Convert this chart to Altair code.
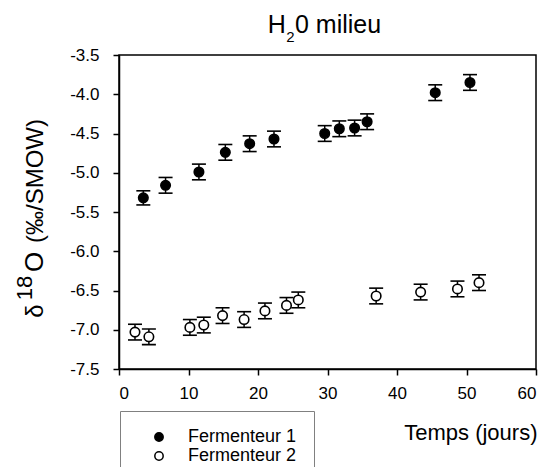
import altair as alt
import pandas as pd

# Fermenteur 1
days1 = [3.5, 6.7, 11.5, 15.3, 18.8, 22.3, 29.6, 31.7, 33.9, 35.7, 45.5, 50.5]
d18o1 = [-5.32, -5.16, -4.99, -4.74, -4.63, -4.57, -4.50, -4.44, -4.43, -4.35, -3.98, -3.85]
err1 = [0.09, 0.10, 0.10, 0.10, 0.10, 0.10, 0.10, 0.10, 0.10, 0.10, 0.10, 0.10]

# Fermenteur 2
days2 = [2.3, 4.3, 10.2, 12.2, 14.9, 18.0, 21.0, 24.1, 25.8, 37.0, 43.4, 48.7, 51.8]
d18o2 = [-7.03, -7.09, -6.97, -6.94, -6.82, -6.87, -6.76, -6.69, -6.62, -6.57, -6.52, -6.48, -6.40]
err2 = [0.10, 0.10, 0.10, 0.10, 0.10, 0.10, 0.10, 0.10, 0.10, 0.10, 0.10, 0.10, 0.10]

series_names = ["Fermenteur 1", "Fermenteur 2"]
x_ticks = [0, 10, 20, 30, 40, 50, 60]
y_ticks = [-7.5, -7.0, -6.5, -6.0, -5.5, -5.0, -4.5, -4.0, -3.5]

FONT = "Liberation Sans"

df = pd.DataFrame({
    "days": days1 + days2,
    "d18o": d18o1 + d18o2,
    "err": err1 + err2,
    "series": [series_names[0]] * len(days1) + [series_names[1]] * len(days2),
})
df["lo"] = df["d18o"] - df["err"]
df["hi"] = df["d18o"] + df["err"]

W, H = 417, 314

xscale = alt.Scale(domain=[0, 60], nice=False)
yscale = alt.Scale(domain=[-7.5, -3.5], nice=False)

label_expr = "datum.value < 0 ? '-' + format(-datum.value, '.1f') : format(datum.value, '.1f')"

x_axis = alt.Axis(
    values=x_ticks, format="d", title="Temps (jours)",
    titleX=W + 1, titleY=70, titleAlign="right", titleBaseline="alphabetic",
    titleFontSize=22, titleFontWeight="normal", titleFont=FONT, titleColor="black",
    labelPadding=10, tickSize=6, labelOverlap=False)
y_axis = alt.Axis(
    values=y_ticks, labelExpr=label_expr, title=None, labelPadding=14, tickSize=6,
    labelOverlap=False)

base = alt.Chart(df)

rules = base.mark_rule(color="black", strokeWidth=1.5).encode(
    x=alt.X("days:Q", scale=xscale, axis=x_axis),
    y=alt.Y("lo:Q", scale=yscale, axis=y_axis), y2="hi:Q")
ticks_lo = base.mark_tick(color="black", orient="horizontal", size=14, thickness=1.6, opacity=1).encode(
    x=alt.X("days:Q", scale=xscale, axis=x_axis),
    y=alt.Y("lo:Q", scale=yscale, axis=y_axis))
ticks_hi = base.mark_tick(color="black", orient="horizontal", size=14, thickness=1.6, opacity=1).encode(
    x=alt.X("days:Q", scale=xscale, axis=x_axis),
    y=alt.Y("hi:Q", scale=yscale, axis=y_axis))

points = base.mark_point(filled=True, shape="circle", size=90, stroke="black",
                         strokeWidth=1.6, opacity=1).encode(
    x=alt.X("days:Q", scale=xscale, axis=x_axis),
    y=alt.Y("d18o:Q", scale=yscale, axis=y_axis),
    fill=alt.Fill("series:N",
                  scale=alt.Scale(domain=series_names, range=["black", "white"]),
                  legend=alt.Legend(
                      title=None, orient="none", legendX=1, legendY=356,
                      padding=17, strokeColor="#808080", cornerRadius=0,
                      symbolType="circle", symbolSize=70, symbolStrokeColor="black",
                      symbolStrokeWidth=1.5, symbolOpacity=1, symbolOffset=13,
                      labelOffset=20, labelFontSize=18, labelFont=FONT,
                      labelColor="black", rowPadding=1)),
)

one = pd.DataFrame({"k": [0]})
def txt(s, x, y, size, align="center", angle=0):
    kw = dict(text=s, font=FONT, fontSize=size, color="black", align=align,
              baseline="alphabetic")
    if angle:
        kw["angle"] = angle
    return alt.Chart(one).mark_text(**kw).encode(x=alt.value(x), y=alt.value(y))

# y axis title: δ18O (‰/SMOW)
ylab = [
    txt("δ", -76, 256, 24, angle=270),
    txt("18", -87, 233, 22, angle=270),
    txt("O", -76, 207, 26, angle=270),
    txt("(‰/SMOW)", -76, 126, 24, angle=270),
]

# chart title: H20 milieu with subscript 2
title = [
    txt("H", 166.7, -22, 25, align="right"),
    txt("2", 167.2, -13.5, 15, align="left"),
    txt("0 milieu", 176, -22, 25, align="left"),
]

chart = alt.layer(rules, ticks_lo, ticks_hi, points, *ylab, *title).properties(
    width=W, height=H,
    autosize=alt.AutoSizeParams(type="none"),
    padding={"left": 111, "top": 47, "right": 4, "bottom": 98},
).configure_view(stroke="black", strokeWidth=1.5).configure_axis(
    grid=False, domainColor="black", domainWidth=1.5, tickColor="black",
    tickWidth=1.5, labelFont=FONT, labelFontSize=17, labelColor="black",
)

chart.save("out.html", embed_options={"renderer": "svg", "actions": False})
